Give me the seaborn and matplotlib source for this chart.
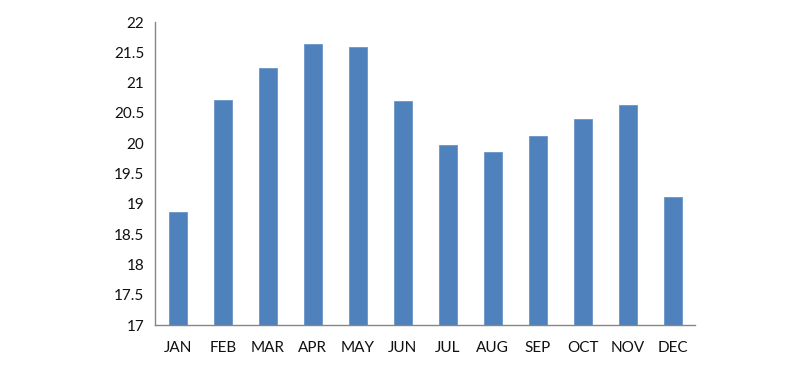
import numpy as np
import pandas as pd
import matplotlib
matplotlib.use("Agg")
import matplotlib.pyplot as plt
import seaborn as sns

months = ["JAN", "FEB", "MAR", "APR", "MAY", "JUN", "JUL", "AUG", "SEP", "OCT", "NOV", "DEC"]
values = [18.87, 20.72, 21.25, 21.63, 21.58, 20.70, 19.98, 19.85, 20.12, 20.40, 20.64, 19.12]
yticks = [17, 17.5, 18, 18.5, 19, 19.5, 20, 20.5, 21, 21.5, 22]
ytick_labels = ["17", "17.5", "18", "18.5", "19", "19.5", "20", "20.5", "21", "21.5", "22"]

sns.set_style("white")
plt.rcParams["font.family"] = ["Lato", "DejaVu Sans"]

df = pd.DataFrame({"month": months, "value": values})

fig = plt.figure(figsize=(8.07, 3.68), dpi=100)
ax = fig.add_axes([0.1924, 0.1160, 0.6692, 0.8242])

sns.barplot(data=df, x="month", y="value", color="#4F81BD", width=0.41,
            saturation=1, edgecolor="#6A95C8", linewidth=0.6, ax=ax)

axis_col = "#868686"
ax.set_xlim(-0.5, len(months) - 0.5)
ax.set_ylim(17, 22)
ax.set_yticks(yticks)
ax.set_yticklabels(ytick_labels)
ax.set_xlabel("")
ax.set_ylabel("")

for side in ["top", "right"]:
    ax.spines[side].set_visible(False)
for side in ["left", "bottom"]:
    ax.spines[side].set_color(axis_col)
    ax.spines[side].set_linewidth(1.0)

# category boundary tick marks, Excel style
ax.set_xticks(np.arange(-0.5, len(months), 1.0), minor=True)
ax.tick_params(axis="x", which="major", length=0, pad=11, labelsize=11, labelcolor="#111111")
ax.tick_params(axis="x", which="minor", length=5, width=1.0, color=axis_col, direction="out")
ax.tick_params(axis="y", which="major", length=5, width=1.0, color=axis_col, direction="out",
               labelsize=11, labelcolor="#111111", pad=3)
ax.grid(False)

fig.savefig("out.png", dpi=100, facecolor="white")
